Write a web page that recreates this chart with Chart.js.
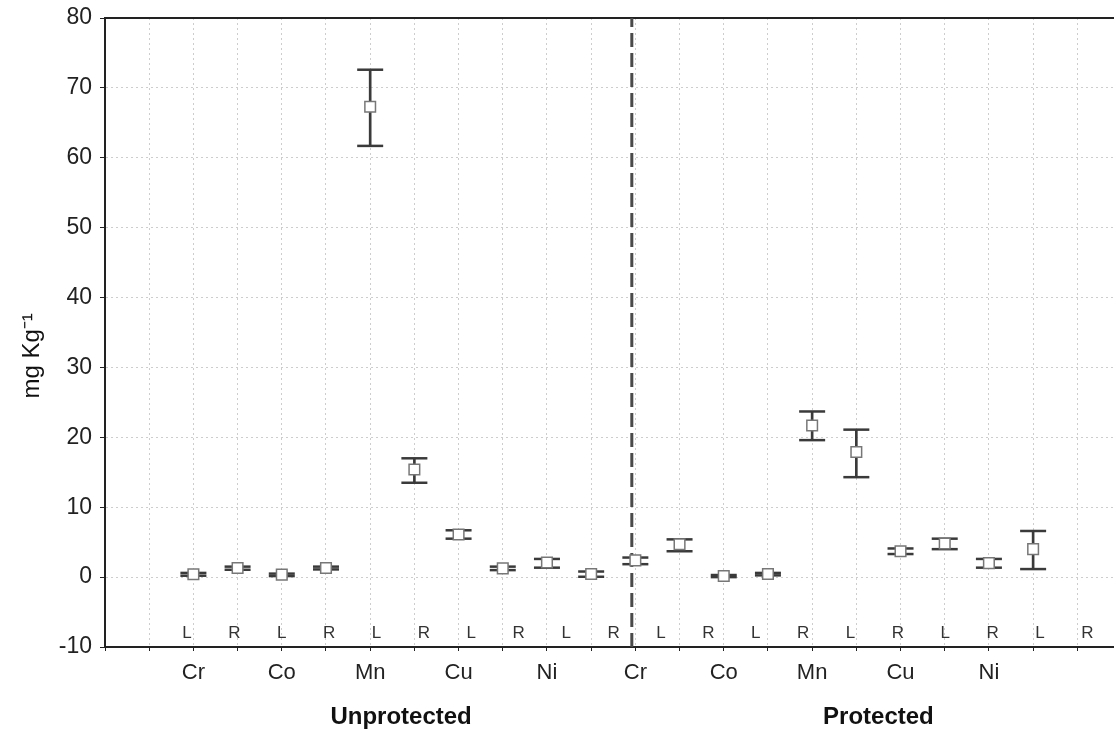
<!DOCTYPE html>
<html><head><meta charset="utf-8">
<script src="https://cdn.jsdelivr.net/npm/chart.js@4/dist/chart.umd.min.js"></script>
<style>html,body{margin:0;padding:0;background:#fff;}</style>
</head><body>
<canvas id="c" width="1114" height="730"></canvas>
<script>
// ---- data ----
const groups = ['Unprotected', 'Protected'];
const elements = ['Cr', 'Co', 'Mn', 'Cu', 'Ni'];
const sides = ['L', 'R'];
const means = [0.4, 1.3, 0.35, 1.3, 67.3, 15.4, 6.1, 1.25, 2.1, 0.45,
               2.4, 4.7, 0.15, 0.45, 21.7, 17.9, 3.7, 4.8, 2.0, 4.0];
const lows  = [0.2, 1.05, 0.15, 1.1, 61.7, 13.5, 5.5, 1.0, 1.35, 0.05,
               1.85, 3.7, 0.0, 0.25, 19.6, 14.3, 3.3, 4.0, 1.35, 1.15];
const highs = [0.6, 1.5, 0.5, 1.5, 72.6, 17.0, 6.7, 1.5, 2.6, 0.8,
               2.8, 5.4, 0.3, 0.6, 23.7, 21.1, 4.1, 5.5, 2.6, 6.6];
const yTicks = [-10, 0, 10, 20, 30, 40, 50, 60, 70, 80];
const yTitle = 'mg Kg\u207B\u00B9';

// derived
const firstSlot = 2;
const slots = ['', ''].concat(groups.flatMap(() => elements.flatMap(e => [e, '']))).concat(['']);
const sideLabels = groups.flatMap(() => elements.flatMap(() => sides));
const xMax = 22.83;
const dividerAt = 11.92;

Chart.defaults.font.family = "'Liberation Sans', Arial, sans-serif";
Chart.defaults.color = '#222';

const lrLabels = {
  id: 'lrLabels',
  afterDatasetsDraw(chart) {
    const {ctx, scales} = chart;
    ctx.save();
    ctx.font = "17px 'Liberation Sans', Arial, sans-serif";
    ctx.fillStyle = '#333';
    ctx.textAlign = 'center';
    ctx.textBaseline = 'middle';
    sideLabels.forEach((t, i) => ctx.fillText(t, scales.xLR.getPixelForValue(i), scales.y.getPixelForValue(-8.1)));
    ctx.restore();
  }
};

const gridCol = '#cdcdcd';
const axisCol = '#222';

new Chart(document.getElementById('c'), {
  type: 'scatter',
  data: {
    datasets: [
      {
        label: 'mean', type: 'scatter', xAxisID: 'x', yAxisID: 'y', order: 0,
        data: means.map((m, i) => ({x: i + firstSlot, y: m})),
        pointStyle: 'rect', pointRadius: 7.5, pointBorderWidth: 1.5,
        pointBorderColor: '#777', pointBackgroundColor: '#fff'
      },
      {
        label: 'low', type: 'scatter', xAxisID: 'x', yAxisID: 'y', order: 1,
        data: lows.map((v, i) => ({x: i + firstSlot, y: v})),
        pointStyle: 'line', pointRadius: 13, pointBorderWidth: 2.5, pointBorderColor: '#3a3a3a'
      },
      {
        label: 'high', type: 'scatter', xAxisID: 'x', yAxisID: 'y', order: 1,
        data: highs.map((v, i) => ({x: i + firstSlot, y: v})),
        pointStyle: 'line', pointRadius: 13, pointBorderWidth: 2.5, pointBorderColor: '#3a3a3a'
      },
      {
        label: 'range', type: 'bar', xAxisID: 'x', yAxisID: 'y', order: 2,
        data: lows.map((v, i) => ({x: i + firstSlot, y: [v, highs[i]]})),
        backgroundColor: '#3a3a3a', borderWidth: 0, barThickness: 2
      },
      {
        label: 'divider', type: 'line', xAxisID: 'x', yAxisID: 'y', order: 3,
        data: [{x: dividerAt, y: -10}, {x: dividerAt, y: 80}],
        showLine: true, borderColor: '#4a4a4a', borderWidth: 3, borderDash: [14, 6], pointRadius: 0
      }
    ]
  },
  options: {
    responsive: false, animation: false, devicePixelRatio: 1,
    layout: {autoPadding: false, padding: {top: 18, left: 0, right: 0, bottom: 0}},
    plugins: {legend: {display: false}, tooltip: {enabled: false}},
    scales: {
      x: {
        type: 'linear', position: 'bottom', min: 0, max: xMax, offset: false,
        afterBuildTicks: s => { s.ticks = slots.map((_, i) => ({value: i})); },
        ticks: {autoSkip: false, maxRotation: 0, callback: v => slots[v] ?? '',
                font: {size: 22}, color: '#222', padding: 9},
        grid: {offset: false, color: gridCol, tickColor: axisCol, tickLength: 4, lineWidth: 1},
        border: {color: axisCol, width: 2, dash: [2, 3]},
        afterFit: s => { s.height = 40; s.paddingLeft = 0; s.paddingRight = 0; }
      },
      xg: {
        type: 'linear', position: 'bottom', min: 0, max: xMax, offset: false,
        afterBuildTicks: s => { s.ticks = [{value: 6.7}, {value: 17.5}]; },
        ticks: {autoSkip: false, maxRotation: 0, callback: (v, i) => groups[i],
                font: {size: 24, weight: 'bold'}, color: '#111', padding: 16},
        grid: {display: false, drawTicks: false},
        border: {display: false},
        afterFit: s => { s.height = 43; s.paddingLeft = 0; s.paddingRight = 0; }
      },
      x2: {
        type: 'linear', position: 'top', min: 0, max: xMax, offset: false,
        ticks: {display: false}, grid: {display: false, drawTicks: false},
        border: {color: axisCol, width: 2},
        afterFit: s => { s.height = 0; }
      },
      xLR: {type: 'linear', display: false, min: -1.73, max: 19.56, offset: false},
      y: {
        type: 'linear', position: 'left', min: -10, max: 80,
        afterBuildTicks: s => { s.ticks = yTicks.map(v => ({value: v})); },
        ticks: {font: {size: 23}, color: '#222', padding: 8},
        grid: {color: gridCol, tickColor: axisCol, tickLength: 5, lineWidth: 1},
        border: {color: axisCol, width: 2, dash: [2, 3]},
        title: {display: true, text: yTitle + '       ', font: {size: 24}, color: '#111', padding: {top: 18, bottom: 0}},
        afterFit: s => { s.width = 105; s.paddingTop = 0; s.paddingBottom = 0; }
      }
    }
  },
  plugins: [lrLabels]
});
</script>
</body></html>
